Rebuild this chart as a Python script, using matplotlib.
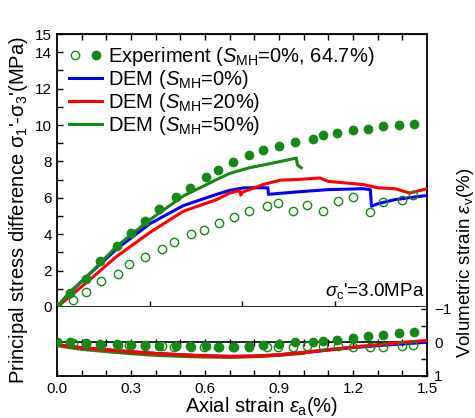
import matplotlib.pyplot as plt
import numpy as np
from matplotlib.legend_handler import HandlerTuple
from matplotlib.lines import Line2D

plt.rcParams["font.family"] = ["Liberation Sans", "DejaVu Sans"]
plt.rcParams["mathtext.fontset"] = "custom"
plt.rcParams["mathtext.rm"] = "Liberation Sans"
plt.rcParams["mathtext.it"] = "Liberation Sans:italic"

# experiment, S_MH = 0% (open circles)
exp0_strain = [0, 0.066, 0.116, 0.178, 0.246, 0.293, 0.357, 0.427, 0.473, 0.542, 0.594, 0.657,
               0.719, 0.78, 0.85, 0.897, 0.955, 1.015, 1.08, 1.14, 1.20, 1.27, 1.32, 1.40, 1.445]
exp0_q = [0, 0.39, 0.81, 1.43, 1.82, 2.36, 2.73, 3.19, 3.55, 4.01, 4.25, 4.62,
          4.97, 5.26, 5.53, 5.71, 5.26, 5.61, 5.29, 5.84, 6.02, 5.2, 5.75, 5.9, 6.13]
exp0_vol = [0, 0.02, 0.04, 0.06, 0.07, 0.08, 0.1, 0.11, 0.12, 0.13, 0.13, 0.13,
            0.13, 0.14, 0.14, 0.12, 0.12, 0.1, 0.1, 0.11, 0.12, 0.12, 0.12, 0.1, 0.08]

# experiment, S_MH = 64.7% (solid circles)
exp64_strain = [0, 0.053, 0.116, 0.174, 0.242, 0.30, 0.357, 0.415, 0.484, 0.538, 0.603, 0.654,
                0.715, 0.777, 0.836, 0.90, 0.965, 1.036, 1.08, 1.135, 1.198, 1.262, 1.323, 1.386, 1.447]
exp64_q = [0, 0.76, 1.56, 2.52, 3.33, 4.05, 4.71, 5.41, 6.07, 6.55, 7.17, 7.52,
           7.94, 8.35, 8.63, 8.85, 9.07, 9.25, 9.47, 9.56, 9.71, 9.8, 9.94, 10.0, 10.04]
exp64_vol = [-0.02, 0, 0.02, 0.04, 0.05, 0.07, 0.08, 0.09, 0.11, 0.11, 0.11, 0.12,
             0.12, 0.1, 0.06, 0.04, 0, -0.02, -0.05, -0.08, -0.12, -0.18, -0.23, -0.27, -0.32]

# DEM stress-strain
dem0_strain = [0, 0.05, 0.107, 0.242, 0.377, 0.512, 0.647, 0.70, 0.76, 0.855, 0.857, 0.97,
               1.1, 1.24, 1.27, 1.275, 1.30, 1.37, 1.5]
dem0_q = [0, 0.75, 1.5, 3.19, 4.58, 5.57, 6.19, 6.41, 6.55, 6.55, 6.19, 6.32,
          6.45, 6.5, 6.45, 5.54, 5.67, 5.9, 6.13]
dem20_strain = [0, 0.05, 0.107, 0.242, 0.377, 0.512, 0.647, 0.70, 0.74, 0.745, 0.75, 0.836,
                0.905, 0.97, 1.066, 1.1, 1.24, 1.3, 1.37, 1.43, 1.5]
dem20_q = [0, 0.55, 1.2, 2.78, 4.1, 5.26, 5.9, 6.26, 6.4, 6.15, 6.3, 6.73,
           6.97, 7.0, 7.09, 6.9, 6.73, 6.55, 6.5, 6.26, 6.5]
dem50_strain = [0, 0.05, 0.116, 0.242, 0.377, 0.512, 0.647, 0.70, 0.782, 0.836, 0.97, 0.975, 0.99]
dem50_q = [0, 0.8, 1.6, 3.33, 4.8, 6.1, 7.0, 7.34, 7.66, 7.8, 8.18, 7.8, 7.65]

# DEM volumetric strain
demv_strain = [0, 0.01, 0.05, 0.1, 0.2, 0.3, 0.4, 0.5, 0.6, 0.7, 0.8, 0.9, 1.0, 1.1, 1.2, 1.3, 1.4, 1.5]
dem0_vol = [0, 0.08, 0.12, 0.16, 0.22, 0.28, 0.33, 0.37, 0.40, 0.42, 0.41, 0.37, 0.30, 0.22, 0.15, 0.09, 0.04, -0.01]
dem20_vol = [0, 0.08, 0.12, 0.16, 0.22, 0.28, 0.33, 0.37, 0.40, 0.42, 0.41, 0.37, 0.30, 0.22, 0.14, 0.07, 0.0, -0.06]
dem50_vol = [0, 0.1, 0.15, 0.2, 0.27, 0.33, 0.38, 0.41, 0.43, 0.44, 0.42, 0.38, 0.32]

GREEN = "#138a13"

fig = plt.figure(figsize=(4.75, 4.18), dpi=100)
ax1 = fig.add_axes((0.12, 0.2656, 0.779, 0.653))
ax2 = fig.add_axes((0.12, 0.1005, 0.779, 0.1651))

mk = dict(ls="none", marker="o", ms=6, mec=GREEN)
ax1.plot(dem0_strain, dem0_q, color="blue", lw=2.2, zorder=3)
ax1.plot(dem20_strain, dem20_q, color="red", lw=2.2, zorder=3)
ax1.plot(dem50_strain, dem50_q, color=GREEN, lw=2.2, zorder=3)
ax1.plot(exp0_strain, exp0_q, mfc="none", mew=1, **mk, zorder=4)
ax1.plot(exp64_strain, exp64_q, mfc=GREEN, **mk, zorder=4)

ax2.plot(demv_strain, dem0_vol, color="blue", lw=2.4, zorder=3)
ax2.plot(demv_strain[:len(dem50_vol)], dem50_vol, color=GREEN, lw=2.4, zorder=3)
ax2.plot(demv_strain, dem20_vol, color="red", lw=2.4, zorder=3)
ax2.plot(exp0_strain, exp0_vol, mfc="none", mew=1, **mk, zorder=4)
ax2.plot(exp64_strain, exp64_vol, mfc=GREEN, **mk, zorder=4)
ax2.axhline(0, color="black", lw=1.2, zorder=2)
ax2.vlines(np.arange(0.1, 1.45, 0.1), -0.1, 0.1, color="black", lw=1, zorder=2)

for ax in (ax1, ax2):
    ax.set_xlim(0, 1.5)
    for s in ax.spines.values():
        s.set_linewidth(1.3)
    ax.tick_params(direction="in", width=1, length=4, labelsize=11)
    ax.tick_params(which="minor", direction="in", width=1, length=4)

ax1.set_ylim(0, 15)
ax1.set_yticks([0, 2, 4, 6, 8, 10, 12, 14, 15])
ax1.set_yticks(np.arange(0, 15, 1), minor=True)
ax1.set_xticks([0.375, 0.75, 1.125])
ax1.tick_params(axis="x", labelbottom=False)
top = ax1.secondary_xaxis("top")
top.set_xticks(np.arange(0.1, 1.45, 0.1))
top.tick_params(direction="in", length=4, width=1, labeltop=False)
ax1.spines["bottom"].set_linewidth(1.2)

ax2.set_ylim(1.0, -1.06)
ax2.set_xticks([0, 0.3, 0.6, 0.9, 1.2, 1.5])
ax2.set_xticklabels(["0.0", "0.3", "0.6", "0.9", "1.2", "1.5"])
ax2.set_xticks(np.arange(0, 1.51, 0.1), minor=True)
ax2.tick_params(axis="x", pad=4)
ax2.yaxis.tick_right()
ax2.set_yticks([-1, 0, 1])
ax2.set_yticks([-0.5, 0.5], minor=True)
ax2.tick_params(axis="y", left=False, which="both", pad=5)
ax2.spines["top"].set_visible(False)

ax1.text(1.49, 0.35, r"$\sigma_{\rm c}$'=3.0MPa", ha="right", va="bottom", fontsize=13.5)

h_open = Line2D([], [], mfc="none", mew=1, **mk)
h_full = Line2D([], [], mfc=GREEN, **mk)
handles = [(h_open, h_full),
           Line2D([], [], color="blue", lw=2.2),
           Line2D([], [], color="red", lw=2.2),
           Line2D([], [], color=GREEN, lw=2.2)]
labels = [r"Experiment ($S_{\rm MH}$=0%, 64.7%)",
          r"DEM ($S_{\rm MH}$=0%)",
          r"DEM ($S_{\rm MH}$=20%)",
          r"DEM ($S_{\rm MH}$=50%)"]
ax1.legend(handles, labels, loc="upper left", frameon=False, fontsize=14.5,
           handler_map={tuple: HandlerTuple(ndivide=None, pad=0.5)},
           handlelength=1.65, handletextpad=0.3, labelspacing=0.0,
           borderaxespad=0.1, bbox_to_anchor=(0.005, 0.995))

fig.text(0.038, 0.498, r"Principal stress difference $\mathregular{\sigma_1}$'-$\mathregular{\sigma_3}$'(MPa)",
         rotation=90, ha="center", va="center", fontsize=14.5)
fig.text(0.981, 0.371, r"Volumetric strain $\varepsilon_{\rm v}$(%)",
         rotation=90, ha="center", va="center", fontsize=13.5)
fig.text(0.55, 0.028, r"Axial strain $\varepsilon_{\rm a}$(%)", ha="center", va="center", fontsize=14.5)

fig.savefig("out.png", dpi=100)
